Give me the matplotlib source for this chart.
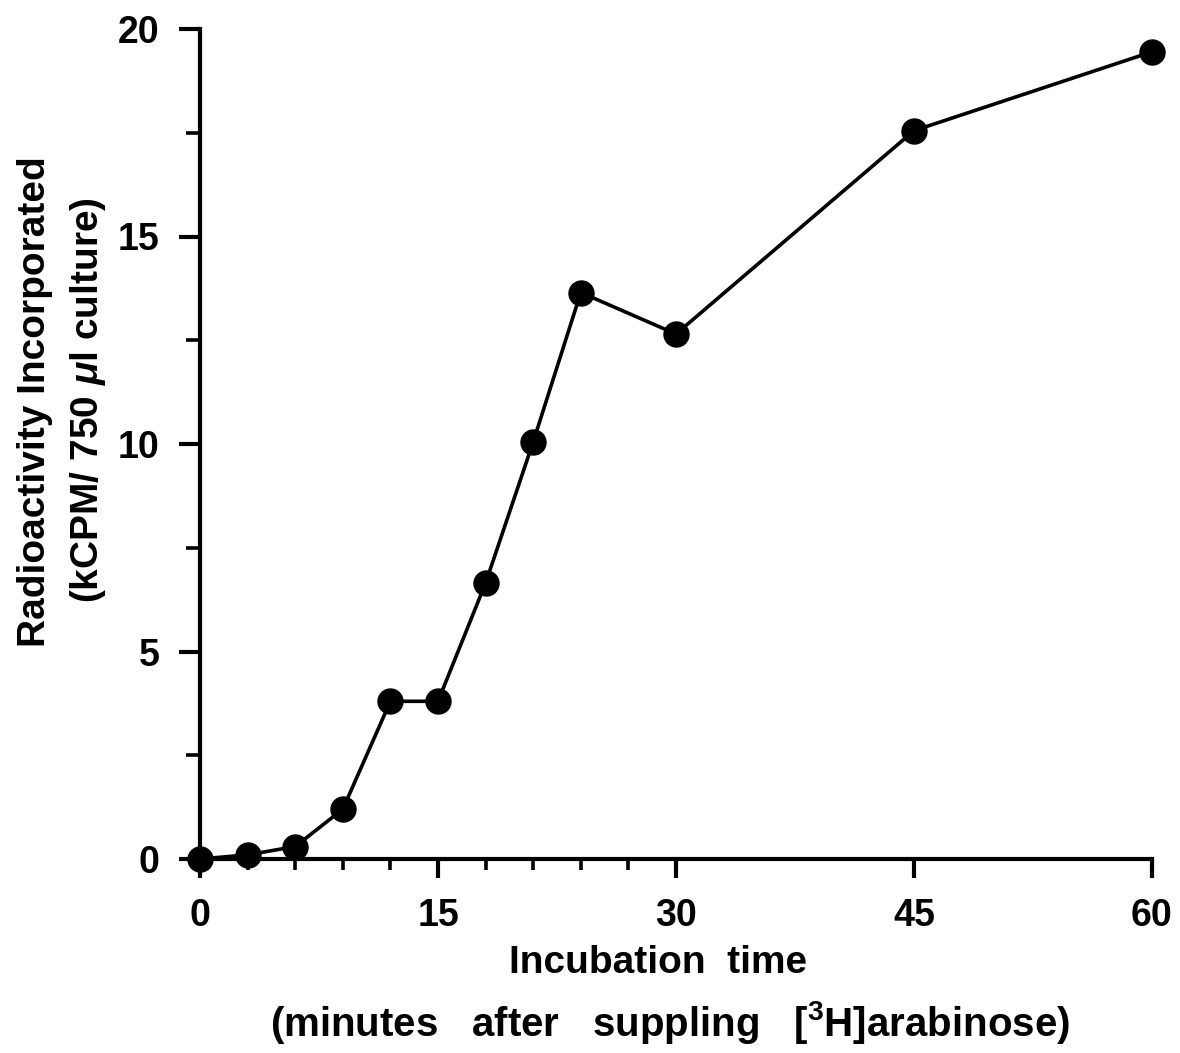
import matplotlib
matplotlib.use('Agg')
import matplotlib.pyplot as plt
from matplotlib.ticker import MultipleLocator

# dados
tempo_min = [0, 3, 6, 9, 12, 15, 18, 21, 24, 30, 45, 60]
kcpm = [0.0, 0.1, 0.3, 1.2, 3.8, 3.8, 6.65, 10.05, 13.65, 12.65, 17.55, 19.45]

x_ticks = [0, 15, 30, 45, 60]
y_ticks = [0, 5, 10, 15, 20]
x_minor = [3, 6, 9, 12, 18, 21, 24, 27]

plt.rcParams['font.family'] = ['Liberation Sans', 'DejaVu Sans']
plt.rcParams['font.weight'] = 'bold'
plt.rcParams['mathtext.fontset'] = 'custom'
plt.rcParams['mathtext.rm'] = 'Liberation Sans:bold'
plt.rcParams['mathtext.it'] = 'Liberation Sans:italic:bold'

fig = plt.figure(figsize=(11.8, 10.53), dpi=100)
ax = fig.add_axes([200/1180, 194/1053, 952/1180, 830/1053])

ax.plot(tempo_min, kcpm, c='k', lw=2.6, marker='o', ms=18, clip_on=False, zorder=3)

ax.set_xlim(0, 60)
ax.set_ylim(0, 20)
ax.set_xticks(x_ticks)
ax.set_xticks(x_minor, minor=True)
ax.set_yticks(y_ticks)
ax.yaxis.set_minor_locator(MultipleLocator(2.5))

for lado in ['top', 'right']:
    ax.spines[lado].set_visible(False)
for lado in ['left', 'bottom']:
    ax.spines[lado].set_linewidth(3)

ax.tick_params(which='major', direction='out', width=3, labelsize=27)
ax.tick_params(axis='x', which='major', length=14, pad=14)
ax.tick_params(axis='y', which='major', length=15, pad=14)
ax.tick_params(axis='x', which='minor', direction='out', width=2.6, length=8)
ax.tick_params(axis='y', which='minor', direction='out', width=2.6, length=10)

fig.text(35/1180, 1 - 402/1053, 'Radioactivity Incorporated', rotation=90,
         ha='center', va='center', fontsize=28)
fig.text(88/1180, 1 - 400/1053, r'(kCPM/ 750 $\mu$l culture)', rotation=90,
         ha='center', va='center', fontsize=28)

fig.text(658/1180, 1 - 963/1053, 'Incubation  time', ha='center', va='center',
         fontsize=28)
fig.text(670/1180, 1 - 1022/1053, '(minutes   after   suppling   [$^{3}$H]arabinose)',
         ha='center', va='center', fontsize=29)

fig.savefig('out.png', dpi=100)
